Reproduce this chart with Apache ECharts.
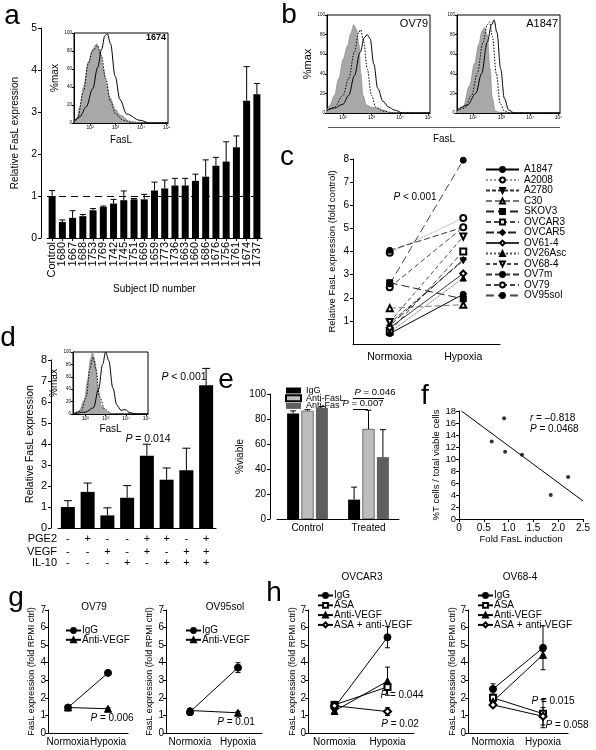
<!DOCTYPE html>
<html><head><meta charset="utf-8">
<script src="https://cdn.jsdelivr.net/npm/echarts@6/dist/echarts.min.js"></script>
<style>html,body{margin:0;padding:0;background:#fff}#c{width:596px;height:750px}</style>
</head><body><div id="c"></div>
<script>
const FONT = "'Liberation Sans', Arial, Helvetica, sans-serif";

// ---------------- DATA ----------------
// Panel a
const aCategories = ['Control','1680','1667','1688','1753','1769','1742','1745','1751','1669','1659','1773','1736','1663','1660','1686','1676','1756','1761','1674','1737'];
const aValues = [1.0,0.38,0.48,0.52,0.66,0.74,0.82,0.9,0.92,0.92,1.13,1.18,1.25,1.25,1.36,1.46,1.72,1.82,2.16,3.27,3.42];
const aErrors = [0.13,0.05,0.17,0.04,0.04,0.02,0.1,0.22,0.02,0.12,0.2,0.2,0.17,0.17,0.16,0.4,0.2,0.47,0.27,0.81,0.26];
const aReference = 1;

// Flow histograms: [log10 FasL, %max]
const histTicks = [2,3,4,5];
const histTickLabels = ['10\u00b2','10\u00b3','10\u2074','10\u2075'];
const a1674Isotype = [[1.37,0],[1.48,5],[1.6,18],[1.74,40],[1.93,68],[2.1,82],[2.26,88],[2.4,78],[2.52,60],[2.65,42],[2.78,28],[3.0,15],[3.17,9],[3.56,2],[4.0,0],[5.05,0]];
const a1674Dotted = [[1.37,0],[1.5,4],[1.74,35],[1.93,66],[2.1,80],[2.28,86],[2.45,74],[2.6,50],[2.8,24],[3.0,10],[3.3,3],[3.7,0],[5.05,0]];
const a1674Solid = [[1.37,2],[1.6,7],[1.85,18],[2.1,38],[2.3,62],[2.45,82],[2.58,97],[2.68,99],[2.8,88],[2.98,52],[3.17,26],[3.43,10],[3.95,3],[4.34,0],[5.05,0]];
const bOV79Isotype = [[1.44,3],[1.54,8],[1.7,18],[1.85,35],[2.01,55],[2.15,68],[2.28,82],[2.38,90],[2.48,85],[2.56,70],[2.63,40],[2.7,18],[2.83,8],[3.0,6],[3.2,5],[3.42,3],[3.65,0],[5.05,0]];
const bOV79Dotted = [[1.44,2],[1.7,6],[2.0,18],[2.2,35],[2.4,62],[2.55,82],[2.62,85],[2.72,74],[2.85,45],[3.0,18],[3.15,6],[3.4,2],[3.8,0],[5.05,0]];
const bOV79Solid = [[1.44,3],[1.7,5],[2.0,9],[2.2,18],[2.4,38],[2.6,62],[2.75,77],[2.85,80],[2.95,76],[3.08,50],[3.22,25],[3.4,12],[3.6,6],[3.8,3],[4.1,0],[5.05,0]];
const bA1847Isotype = [[1.44,2],[1.65,6],[1.88,28],[2.05,50],[2.2,70],[2.32,84],[2.4,87],[2.5,80],[2.6,45],[2.68,15],[2.78,2],[3.0,0],[5.05,0]];
const bA1847Dotted = [[1.44,2],[1.7,5],[1.95,18],[2.15,40],[2.35,72],[2.5,90],[2.58,93],[2.68,78],[2.82,40],[2.95,10],[3.1,2],[3.3,0],[5.05,0]];
const bA1847Solid = [[1.44,3],[1.8,8],[2.1,20],[2.3,40],[2.5,72],[2.65,90],[2.74,95],[2.84,82],[2.97,45],[3.1,15],[3.25,3],[3.45,0],[5.05,0]];
const dInsetIsotype = [[1.4,0],[1.7,5],[1.95,22],[2.12,55],[2.25,88],[2.35,100],[2.48,85],[2.62,40],[2.8,12],[3.1,3],[3.4,0],[5.07,0]];
const dInsetDotted = [[1.4,0],[1.8,5],[2.05,28],[2.22,72],[2.38,92],[2.52,72],[2.7,28],[2.95,8],[3.3,0],[5.07,0]];
const dInsetSolid = [[1.4,0],[2.0,3],[2.4,10],[2.65,40],[2.85,80],[3.0,100],[3.15,86],[3.35,42],[3.55,14],[3.75,6],[3.95,7],[4.2,2],[4.5,0],[5.07,0]];

// Panel c
const cCategories = ['Normoxia','Hypoxia'];
const cLines = ['A1847','A2008','A2780','C30','SKOV3','OVCAR3','OVCAR5','OV61-4','OV26Asc','OV68-4','OV7m','OV79','OV95sol'];
const cNormoxia = [0.45,3.95,0.9,1.55,2.65,0.55,0.8,0.7,0.5,0.95,4.05,2.45,2.6];
const cHypoxia  = [2.15,5.45,3.6,1.7,1.95,4.0,3.65,3.05,2.85,4.65,5.05,5.05,7.95];

// Panel d
const dCategories = ['1','2','3','4','5','6','7','8'];
const dValues = [1.0,1.72,0.6,1.44,3.44,2.3,2.75,6.8];
const dErrors = [0.3,0.42,0.36,0.58,0.55,0.56,1.05,0.8];
const dPGE2 = ['-','+','-','-','+','+','-','+'];
const dVEGF = ['-','-','+','-','+','-','+','+'];
const dIL10 = ['-','-','-','+','-','+','+','+'];

// Panel e
const eCategories = ['Control','Treated'];
const eIgG = [84.5,15.5];      const eIgGErr = [2,10];
const eAntiFasL = [86.5,72];   const eAntiFasLErr = [1,15];
const eAntiFas = [89,49.5];    const eAntiFasErr = [1,22];

// Panel f
const fFoldInduction = [0.66,0.93,0.91,1.27,1.85,2.2];
const fTcells = [12.9,11.2,16.8,10.7,4.0,7.0];
const fFitX = [0.05,2.5];
const fFitY = [18,3.0];

// Panels g, h
const ghCategories = ['Normoxia','Hypoxia'];
const gOV79IgG = [1.45,3.42];       const gOV79IgGErr = [0.05,0.1];
const gOV79AntiVEGF = [1.45,1.38];  const gOV79AntiVEGFErr = [0.04,0.05];
const gOV95IgG = [1.2,3.72];        const gOV95IgGErr = [0.2,0.28];
const gOV95AntiVEGF = [1.28,1.15];  const gOV95AntiVEGFErr = [0.12,0.08];
const hOVCAR3IgG = [1.45,5.45];     const hOVCAR3IgGErr = [0.25,0.6];
const hOVCAR3ASA = [1.6,2.62];      const hOVCAR3ASAErr = [0.2,0.2];
const hOVCAR3AntiVEGF = [1.25,2.95];const hOVCAR3AntiVEGFErr = [0.1,0.8];
const hOVCAR3Combo = [1.55,1.22];   const hOVCAR3ComboErr = [0.15,0.22];
const hOV68IgG = [2.5,4.85];        const hOV68IgGErr = [0.3,1.25];
const hOV68ASA = [2.0,1.1];         const hOV68ASAErr = [0.2,0.8];
const hOV68AntiVEGF = [1.8,4.45];   const hOV68AntiVEGFErr = [0.15,0.2];
const hOV68Combo = [1.6,0.95];      const hOV68ComboErr = [0.1,0.5];

// ---------------- BUILD ----------------
const grids=[], xAxes=[], yAxes=[], series=[], legends=[], graphics=[];
function merge(a,b){for(const k in b){const v=b[k];if(v&&typeof v==='object'&&!Array.isArray(v)&&typeof v!=='function'&&a[k]&&typeof a[k]==='object'&&!Array.isArray(a[k]))merge(a[k],v);else a[k]=v;}return a;}
function axis(o){
  return merge({
    axisLine:{show:true,onZero:false,lineStyle:{color:'#000',width:1}},
    axisTick:{show:true,inside:false,length:3,lineStyle:{color:'#000',width:1}},
    axisLabel:{color:'#000',fontFamily:FONT,fontSize:10,margin:4,hideOverlap:false},
    splitLine:{show:false},
    nameTextStyle:{color:'#000',fontFamily:FONT,fontSize:10},
  },o);
}
function addGrid(g){grids.push(merge({show:false,containLabel:false},g));return grids.length-1;}
function addX(o){xAxes.push(axis(o));return xAxes.length-1;}
function addY(o){yAxes.push(axis(o));return yAxes.length-1;}
function errSeries(xi,yi,vals,errs,offset,capW,both,z){
  return {type:'custom',xAxisIndex:xi,yAxisIndex:yi,silent:true,z:z||4,encode:{x:0,y:1},
    data:vals.map((v,i)=>[i,v,errs[i]]),
    renderItem(params,api){
      const i=api.value(0),v=api.value(1),e=api.value(2);
      const c=api.coord([i,v]);
      const hi=api.coord([i,v+e])[1];
      const lo=both?api.coord([i,v-e])[1]:c[1];
      const x=c[0]+offset;
      const st={stroke:'#000',lineWidth:1,fill:null};
      const ch=[{type:'line',shape:{x1:x,y1:lo,x2:x,y2:hi},style:st},
        {type:'line',shape:{x1:x-capW/2,y1:hi,x2:x+capW/2,y2:hi},style:st}];
      if(both)ch.push({type:'line',shape:{x1:x-capW/2,y1:lo,x2:x+capW/2,y2:lo},style:st});
      return {type:'group',children:ch};
    }};
}
function txt(x,y,s,o){graphics.push({type:'text',x:x,y:y,silent:true,style:merge({text:s,fill:'#000',fontFamily:FONT,fontSize:10,align:'center',verticalAlign:'middle'},o||{})});}
function ptxt(x,y,s,o){txt(x,y,'{i|P} '+s,merge({rich:{i:{fontStyle:'italic',fontFamily:FONT,fontSize:(o&&o.fontSize)||10,fill:'#000'}}},o||{}));}
function line(x1,y1,x2,y2,w,c){graphics.push({type:'line',silent:true,shape:{x1,y1,x2,y2},style:{stroke:c||'#000',lineWidth:w||1}});}

function histPanel(box,xmin,xmax,curves,yName,yGap,xName,xGap,nameSize){
  const gi=addGrid({left:box[0],top:box[1],width:box[2],height:box[3],show:true,borderColor:'#000',borderWidth:1,backgroundColor:'#fff'});
  const xi=addX({gridIndex:gi,type:'value',min:xmin,max:xmax,
    axisTick:{length:2,customValues:histTicks},
    axisLabel:{customValues:histTicks,formatter:v=>histTickLabels[histTicks.indexOf(Math.round(v))]||'',fontSize:5,margin:2},
    name:xName||'',nameLocation:'middle',nameGap:xGap||0,nameTextStyle:{fontSize:nameSize||10}});
  const yi=addY({gridIndex:gi,type:'value',min:0,max:100,interval:20,
    axisTick:{length:2},axisLabel:{fontSize:4.5,margin:2},
    name:yName||'',nameLocation:'middle',nameGap:yGap||0,nameTextStyle:{fontSize:nameSize||10}});
  const common={type:'line',xAxisIndex:xi,yAxisIndex:yi,showSymbol:false,symbol:'none',smooth:0.35,smoothMonotone:'x',silent:true};
  series.push(merge({data:curves[0],lineStyle:{color:'#808080',width:0.6},areaStyle:{color:'#a8a8a8',opacity:1}},common));
  series.push(merge({data:curves[1],lineStyle:{color:'#000',width:1,type:[1.5,1.5]}},common));
  series.push(merge({data:curves[2],lineStyle:{color:'#000',width:1}},common));
}

// ---- Panel a ----
{
  const gi=addGrid({left:47,top:28,width:215,height:210});
  const xi=addX({gridIndex:gi,type:'category',data:aCategories,axisTick:{alignWithLabel:true},
    axisLabel:{rotate:90,interval:0,fontSize:11,margin:4},
    name:'Subject ID number',nameLocation:'middle',nameGap:46});
  const yi=addY({gridIndex:gi,type:'value',min:0,max:5,interval:1,offset:6,axisLabel:{fontSize:10.5},
    name:'Relative FasL expression',nameLocation:'middle',nameGap:21,nameTextStyle:{fontSize:10}});
  series.push({type:'bar',xAxisIndex:xi,yAxisIndex:yi,data:aValues,barWidth:7,itemStyle:{color:'#000'},silent:true,
    markLine:{silent:true,symbol:'none',label:{show:false},lineStyle:{color:'#000',type:[7,5],width:1},data:[{yAxis:aReference}]}});
  series.push(errSeries(xi,yi,aValues,aErrors,0,6,false));
  histPanel([74,33,94,90],1.37,5.05,[a1674Isotype,a1674Dotted,a1674Solid],'%max',9,'FasL',12,10);
  txt(166,38,'1674',{align:'right',fontSize:9,fontWeight:'bold'});
  txt(12,16,'a',{fontSize:28});
}
// ---- Panel b ----
{
  histPanel([327,15,103,98],1.44,5.05,[bOV79Isotype,bOV79Dotted,bOV79Solid],'%max',9,'',0,11);
  histPanel([457,15,103,98],1.44,5.05,[bA1847Isotype,bA1847Dotted,bA1847Solid],'',0,'',0,10);
  txt(428,24,'OV79',{align:'right',fontSize:11});
  txt(558,24,'A1847',{align:'right',fontSize:11});
  line(328,127.5,560,127.5,1.2,'#555');
  txt(444,139,'FasL',{fontSize:10});
  txt(289,15,'b',{fontSize:28});
}
// ---- Panel c ----
{
  const gi=addGrid({left:353,top:159,width:147,height:185});
  const xi=addX({gridIndex:gi,type:'category',data:cCategories,axisTick:{show:false},axisLabel:{fontSize:10.5,margin:8,interval:0}});
  const yi=addY({gridIndex:gi,type:'value',min:0,max:8,interval:1,axisLabel:{showMinLabel:false,fontSize:10},
    name:'Relative FasL expression (fold control)',nameLocation:'middle',nameGap:16,nameTextStyle:{fontSize:9.5}});
  const styles=[
    {s:'circle',t:'solid',c:'#000'},{s:'emptyCircle',t:'dotted',c:'#999'},{s:'triangle',r:180,t:[4,2],c:'#333'},
    {s:'emptyTriangle',t:[6,3],c:'#777'},{s:'rect',t:[8,4],c:'#222'},{s:'emptyRect',t:[5,3],c:'#444'},
    {s:'diamond',t:[8,3],c:'#222'},{s:'emptyDiamond',t:'solid',c:'#333'},{s:'triangle',t:'dotted',c:'#555'},
    {s:'emptyTriangle',r:180,t:[4,3],c:'#444'},{s:'circle',t:[6,3],c:'#333'},{s:'emptyCircle',t:[5,3],c:'#444'},
    {s:'circle',t:[8,4],c:'#444'}];
  cLines.forEach((n,i)=>{
    const st=styles[i];
    series.push({type:'line',name:n,xAxisIndex:xi,yAxisIndex:yi,data:[cNormoxia[i],cHypoxia[i]],
      symbol:st.s,symbolSize:6,symbolRotate:st.r||0,showSymbol:true,silent:true,
      itemStyle:{color:'#000',borderColor:'#000',borderWidth:1},
      lineStyle:{color:st.c,width:1,type:st.t}});
  });
  legends.push({data:cLines,orient:'vertical',left:480,top:159.5,itemWidth:33,itemHeight:6,itemGap:0.5,selectedMode:false,
    textStyle:{fontSize:10,fontFamily:FONT,color:'#000'}});
  ptxt(415,197,'< 0.001',{fontSize:10});
  txt(287,157,'c',{fontSize:28});
}
// ---- Panel d ----
{
  const gi=addGrid({left:58,top:360,width:158,height:168});
  const xi=addX({gridIndex:gi,type:'category',data:dCategories,axisTick:{show:false},axisLabel:{show:false}});
  const rowAxis=(data,name,off)=>addX({gridIndex:gi,type:'category',data:data,position:'bottom',offset:off,
    axisLine:{show:false},axisTick:{show:false},axisLabel:{fontSize:11,margin:0,verticalAlign:'middle',interval:0},
    name:name,nameLocation:'start',nameGap:1,nameTextStyle:{fontSize:11,align:'right',verticalAlign:'middle'}});
  rowAxis(dPGE2,'PGE2',11); rowAxis(dVEGF,'VEGF',24); rowAxis(dIL10,'IL-10',35);
  const yi=addY({gridIndex:gi,type:'value',min:0,max:8,interval:1,offset:7,axisLabel:{fontSize:11},
    name:'Relative FasL expression',nameLocation:'middle',nameGap:15,nameTextStyle:{fontSize:10.5}});
  series.push({type:'bar',xAxisIndex:xi,yAxisIndex:yi,data:dValues,barWidth:14,itemStyle:{color:'#000'},silent:true});
  series.push(errSeries(xi,yi,dValues,dErrors,0,8,false));
  histPanel([73,352,75,62],1.4,5.07,[dInsetIsotype,dInsetDotted,dInsetSolid],'%max',6,'FasL',10,10);
  ptxt(148,439,'= 0.014',{fontSize:10.5});
  ptxt(184,377,'< 0.001',{fontSize:10.5});
  txt(8,338,'d',{fontSize:28});
}
// ---- Panel e ----
{
  const gi=addGrid({left:277,top:394,width:122,height:125});
  const xi=addX({gridIndex:gi,type:'category',data:eCategories,axisTick:{show:false},axisLabel:{fontSize:10,margin:4,interval:0}});
  const yi=addY({gridIndex:gi,type:'value',min:0,max:100,interval:20,offset:7,axisLabel:{fontSize:10},
    name:'%viable',nameLocation:'middle',nameGap:15,nameTextStyle:{fontSize:10}});
  const bars=[['IgG ',eIgG,eIgGErr,'#000'],['Anti-FasL',eAntiFasL,eAntiFasLErr,'#bdbdbd'],['Anti-Fas',eAntiFas,eAntiFasErr,'#5e5e5e']];
  bars.forEach((b,k)=>{
    series.push({type:'bar',name:b[0],xAxisIndex:xi,yAxisIndex:yi,data:b[1],barWidth:12,barGap:'20%',silent:true,
      itemStyle:{color:b[3],borderColor:'#000',borderWidth:k===1?0.5:0}});
  });
  bars.forEach((b,k)=>series.push(errSeries(xi,yi,b[1],b[2],(k-1)*14.4,6,false)));
  legends.push({data:bars.map(b=>b[0]),orient:'vertical',left:280,top:381,itemWidth:15,itemHeight:6,itemGap:-1.3,icon:'rect',selectedMode:false,
    formatter:n=>n.trim(),textStyle:{fontSize:9,fontFamily:FONT,color:'#000'}});
  ptxt(375,392,'= 0.046',{fontSize:9.5});
  line(353,398.5,384,398.5,1);
  ptxt(363,403,'= 0.007',{fontSize:9.5});
  line(353,409.5,368,409.5,1);
  txt(226,380,'e',{fontSize:28});
}
// ---- Panel f ----
{
  const gi=addGrid({left:459,top:411,width:124,height:108});
  const xi=addX({gridIndex:gi,type:'value',min:0,max:2.5,interval:0.5,axisLabel:{fontSize:10,formatter:v=>v===0?'0':v.toFixed(1)},
    name:'Fold FasL induction',nameLocation:'middle',nameGap:13,nameTextStyle:{fontSize:9.5}});
  const yi=addY({gridIndex:gi,type:'value',min:0,max:18,interval:2,axisLabel:{fontSize:9.5,margin:3},
    name:'%T cells / total viable cells',nameLocation:'middle',nameGap:16,nameTextStyle:{fontSize:9.5}});
  series.push({type:'scatter',xAxisIndex:xi,yAxisIndex:yi,data:fFoldInduction.map((x,i)=>[x,fTcells[i]]),symbolSize:4,itemStyle:{color:'#000'},silent:true});
  series.push({type:'line',xAxisIndex:xi,yAxisIndex:yi,data:fFitX.map((x,i)=>[x,fFitY[i]]),showSymbol:false,symbol:'none',lineStyle:{color:'#000',width:1},silent:true});
  txt(530,418,'{i|r} = \u20130.818',{align:'left',fontSize:10,rich:{i:{fontStyle:'italic',fontSize:10,fontFamily:FONT}}});
  txt(530,429,'{i|P} = 0.0468',{align:'left',fontSize:10,rich:{i:{fontStyle:'italic',fontSize:10,fontFamily:FONT}}});
  txt(425,396,'f',{fontSize:28});
}
// ---- Panels g, h ----
const ghStyles={
  'IgG':{symbol:'circle',symbolSize:7},
  'ASA':{symbol:'emptyRect',symbolSize:6},
  'Anti-VEGF':{symbol:'triangle',symbolSize:7},
  'ASA + anti-VEGF':{symbol:'emptyDiamond',symbolSize:7}
};
function ghPanel(left,width,title,titleX,titleY,sets,legendLeft,legendTop,nameGap,gap){
  const gi=addGrid({left:left,top:610,width:width,height:123});
  const xi=addX({gridIndex:gi,type:'category',data:ghCategories,axisTick:{show:false},axisLabel:{fontSize:10,margin:4,interval:0}});
  const yi=addY({gridIndex:gi,type:'value',min:0,max:7,interval:1,axisLabel:{fontSize:10,margin:2},
    name:'FasL expression (fold RPMI ctrl)',nameLocation:'middle',nameGap:nameGap,nameTextStyle:{fontSize:9}});
  sets.forEach(s=>{
    series.push(errSeries(xi,yi,s[1],s[2],0,5,true,1));
    series.push(merge({type:'line',name:s[0],xAxisIndex:xi,yAxisIndex:yi,data:s[1],showSymbol:true,silent:true,z:3,
      itemStyle:{color:'#000',borderColor:'#000',borderWidth:1},lineStyle:{color:'#000',width:1}},ghStyles[s[0]]));
  });
  legends.push({data:sets.map(s=>s[0]),orient:'vertical',left:legendLeft,top:legendTop,itemWidth:15,itemHeight:6,itemGap:gap,selectedMode:false,
    textStyle:{fontSize:10,fontFamily:FONT,color:'#000',padding:[0,0,0,-4]}});
  txt(titleX,titleY,title,{fontSize:10});
}
ghPanel(48,80,'OV79',94,607,[['IgG',gOV79IgG,gOV79IgGErr],['Anti-VEGF',gOV79AntiVEGF,gOV79AntiVEGFErr]],60,620.5,12,-0.7);
ghPanel(166,96,'OV95sol',225,607,[['IgG',gOV95IgG,gOV95IgGErr],['Anti-VEGF',gOV95AntiVEGF,gOV95AntiVEGFErr]],180,620.5,12,-0.7);
ghPanel(308,106,'OVCAR3',362,577,[['IgG',hOVCAR3IgG,hOVCAR3IgGErr],['ASA',hOVCAR3ASA,hOVCAR3ASAErr],['Anti-VEGF',hOVCAR3AntiVEGF,hOVCAR3AntiVEGFErr],['ASA + anti-VEGF',hOVCAR3Combo,hOVCAR3ComboErr]],312,585.5,10,-0.2);
ghPanel(468,100,'OV68-4',520,577,[['IgG',hOV68IgG,hOV68IgGErr],['ASA',hOV68ASA,hOV68ASAErr],['Anti-VEGF',hOV68AntiVEGF,hOV68AntiVEGFErr],['ASA + anti-VEGF',hOV68Combo,hOV68ComboErr]],472,585.5,9,-0.2);
ptxt(112,718,'= 0.006');
ptxt(236,722,'= 0.01');
ptxt(402,695,'= 0.044');
ptxt(400,724,'= 0.02');
ptxt(553,701,'= 0.015');
ptxt(567,725,'= 0.058');
txt(16,598,'g',{fontSize:28});
txt(274,593,'h',{fontSize:28});

const chart=echarts.init(document.getElementById('c'),null,{renderer:'canvas',width:596,height:750});
chart.setOption({
  backgroundColor:'#fff',animation:false,
  textStyle:{fontFamily:FONT,color:'#000'},
  grid:grids,xAxis:xAxes,yAxis:yAxes,series:series,legend:legends,graphic:graphics,tooltip:{show:false}
});
</script></body></html>
